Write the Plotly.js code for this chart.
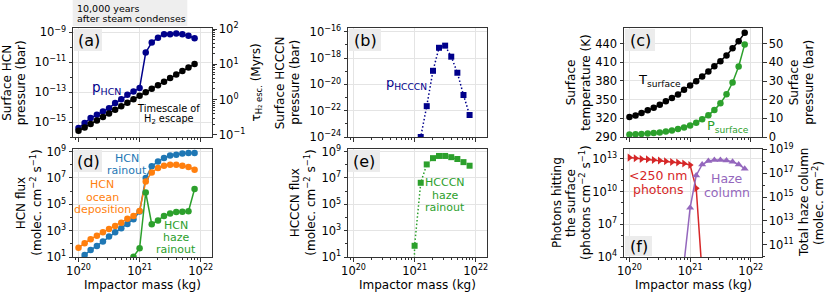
<!DOCTYPE html>
<html><head><meta charset="utf-8">
<script src="https://cdn.plot.ly/plotly-3.0.1.min.js"></script>
<style>html,body{margin:0;padding:0;background:#fff}#chart{width:831px;height:294px}</style>
</head><body><div id="chart"></div>
<script>
// ---------------- data ----------------
const impactorMass = [1.00e20, 1.26e20, 1.58e20, 2.00e20, 2.51e20, 3.16e20, 3.98e20, 5.01e20, 6.31e20, 7.94e20,
                      1.00e21, 1.26e21, 1.58e21, 2.00e21, 2.51e21, 3.16e21, 3.98e21, 5.01e21, 6.31e21, 7.94e21];
const pHCN = [4.0e-16, 8.5e-16, 1.86e-15, 3.1e-15, 5.1e-15, 8.5e-15, 1.86e-14, 3.4e-14, 6.6e-14, 1.1e-13,
              1.86e-13, 4.4e-11, 2.1e-10, 4.4e-10, 7.4e-10, 7.4e-10, 8.5e-10, 7.4e-10, 5.9e-10, 4.0e-10];
const tauH2esc = [0.13, 0.162, 0.204, 0.257, 0.323, 0.407, 0.512, 0.645, 0.812, 1.02,
                  1.29, 1.62, 2.04, 2.57, 3.23, 4.07, 5.12, 6.45, 8.12, 10.2];
const pHCCCN = [null, null, null, null, null, null, null, null, null, null,
                1e-30, 1.0e-24, 2.2e-22, 1.07e-19, 6.0e-18, 8.7e-18, 1.26e-18, 7.6e-20, 1.55e-21, 4.7e-23];
const tSurface = [322, 324.7, 328.4, 332.8, 337, 341.9, 347.2, 352.5, 358.4, 365.9,
                  372.8, 379.7, 387.2, 395.2, 403.7, 411.7, 420.8, 432.5, 443.7, 457.2];
const pSurface = [1.3, 1.46, 1.62, 1.84, 2.16, 2.38, 2.92, 3.46, 4.32, 5.08,
                  6.16, 7.57, 9.57, 11.7, 14.4, 18.05, 22.9, 29.2, 37.8, 49.6];
const hcnRainout = [5.6, 14, 34, 69, 148, 355, 760, 1510, 3240, 7400,
                    28000, 1.0e7, 7.6e7, 1.8e8, 3.3e8, 5.0e8, 5.9e8, 7.1e8, 7.9e8, 7.9e8];
const hcnOcean = [51, 110, 224, 417, 759, 1350, 2290, 4070, 7940, 13200,
                  31600, 5.5e6, 2.63e7, 5.75e7, 8.5e7, 1.02e8, 1.02e8, 8.5e7, 6.8e7, 4.3e7];
const hcnHaze = [null, null, null, null, null, null, null, null, 2.5, 10.5,
                 46, 7.9e5, 3100, 6000, 13200, 2.0e4, 2.6e4, 2.7e4, 2.95e4, 1.45e6];
const hcccnRainout = [null, null, null, null, null, null, null, null, null, 1e-30,
                      71, 4.3e6, 1.07e8, 3.2e8, 4.7e8, 4.7e8, 3.8e8, 2.75e8, 1.6e8, 8.5e7];
const photons250 = [1.29e13, 1.12e13, 9.5e12, 9.1e12, 7.8e12, 6.9e12, 6.0e12, 5.1e12, 4.6e12, 3.7e12,
                    2.7e12, 2.0e10, 250, null, null, null, null, null, null, null];
const hazeColumn = [null, null, null, null, null, null, null, null, null, 3e9,
                    1.26e14, 6.5e16, 5.4e17, 1.05e18, 1.26e18, 1.26e18, 1.17e18, 9.1e17, 5.5e17, 2.4e17];

// tick labels
const massTicks = [1e20, 1e21, 1e22];
const massTickText = ['10<sup>20</sup>', '10<sup>21</sup>', '10<sup>22</sup>'];
const hcnPTicks = [1e-15, 1e-13, 1e-11, 1e-9];
const hcnPTickText = ['10<sup>−15</sup>', '10<sup>−13</sup>', '10<sup>−11</sup>', '10<sup>−9</sup>'];
const tauTicks = [0.1, 1, 10, 100];
const tauTickText = ['10<sup>−1</sup>', '10<sup>0</sup>', '10<sup>1</sup>', '10<sup>2</sup>'];
const hcccnPTicks = [1e-24, 1e-22, 1e-20, 1e-18, 1e-16];
const hcccnPTickText = ['10<sup>−24</sup>', '10<sup>−22</sup>', '10<sup>−20</sup>', '10<sup>−18</sup>', '10<sup>−16</sup>'];
const tempTicks = [290, 320, 350, 380, 410, 440];
const presTicks = [0, 10, 20, 30, 40, 50];
const fluxTicks = [1e1, 1e3, 1e5, 1e7, 1e9];
const fluxTickText = ['10<sup>1</sup>', '10<sup>3</sup>', '10<sup>5</sup>', '10<sup>7</sup>', '10<sup>9</sup>'];
const photonTicks = [1e4, 1e7, 1e10, 1e13];
const photonTickText = ['10<sup>4</sup>', '10<sup>7</sup>', '10<sup>10</sup>', '10<sup>13</sup>'];
const hazeTicks = [1e11, 1e13, 1e15, 1e17, 1e19];
const hazeTickText = ['10<sup>11</sup>', '10<sup>13</sup>', '10<sup>15</sup>', '10<sup>17</sup>', '10<sup>19</sup>'];

// ---------------- layout helpers ----------------
const W = 831, H = 294;
const px = v => v / W;
const py = v => 1 - v / H;
const FONT = 'DejaVu Sans';
const AX = '#333';
const GRID = '#e4e4e4';
const TICKF = 11.5;
const colA = [73, 212], colB = [348, 487], colC = [624, 762];
const row1 = [28, 137], row2 = [149, 257];

function minorLog(lo, hi, subs) {
  const out = [];
  for (let e = lo; e <= hi; e++) subs.forEach(s => out.push(s * Math.pow(10, e)));
  return out;
}
const massMinor = minorLog(19, 21, [2,3,4,5,6,7,8,9]);

function xAx(col, anchor, labels) {
  return {
    type: 'log', domain: [px(col[0]), px(col[1])], anchor: anchor, range: [19.91, 22.185],
    tickmode: 'array', tickvals: massTicks, ticktext: massTickText, showticklabels: labels,
    ticks: 'outside', ticklen: 3.5, tickwidth: 1, tickcolor: AX,
    showline: true, mirror: true, linecolor: AX, linewidth: 1,
    showgrid: true, gridcolor: GRID, gridwidth: 1, zeroline: false,
    tickfont: {family: FONT, size: TICKF, color: '#000'},
    minor: {tickmode: 'array', tickvals: massMinor, ticks: 'outside', ticklen: 2, tickcolor: AX, showgrid: false}
  };
}
function yAx(row, anchor, type, range, tv, tt, minorVals, right, over) {
  const a = {
    type: type, domain: [py(row[1]), py(row[0])], anchor: anchor, range: range,
    tickmode: 'array', tickvals: tv, ticks: 'outside', ticklen: 3.5, tickwidth: 1, tickcolor: AX,
    showline: true, mirror: !right, linecolor: AX, linewidth: 1,
    showgrid: !right, gridcolor: GRID, gridwidth: 1, zeroline: false,
    tickfont: {family: FONT, size: TICKF, color: '#000'}
  };
  if (tt) a.ticktext = tt;
  if (minorVals) a.minor = {tickmode: 'array', tickvals: minorVals, ticks: 'outside', ticklen: 2, tickcolor: AX, showgrid: false};
  if (right) { a.side = 'right'; a.overlaying = over; }
  return a;
}

const layout = {
  width: W, height: H, margin: {l: 0, r: 0, t: 0, b: 0},
  paper_bgcolor: '#fff', plot_bgcolor: 'rgba(0,0,0,0)', showlegend: false,
  font: {family: FONT, color: '#000'},
  xaxis:  xAx(colA, 'y', false),
  xaxis2: xAx(colB, 'y3', false),
  xaxis3: xAx(colC, 'y4', false),
  xaxis4: xAx(colA, 'y6', true),
  xaxis5: xAx(colB, 'y7', true),
  xaxis6: xAx(colC, 'y8', true),
  yaxis:  yAx(row1, 'x', 'log', [-16, -8.71], hcnPTicks, hcnPTickText, [1e-16, 1e-14, 1e-12, 1e-10]),
  yaxis2: yAx(row1, 'x', 'log', [-1.06, 2.03], tauTicks, tauTickText, minorLog(-1, 1, [2,3,4,5,6,7,8,9]), true, 'y'),
  yaxis3: yAx(row1, 'x2', 'log', [-24, -15.72], hcccnPTicks, hcccnPTickText, [1e-23, 1e-21, 1e-19, 1e-17]),
  yaxis4: yAx(row1, 'x3', 'linear', [290, 465], tempTicks, null, null),
  yaxis5: yAx(row1, 'x3', 'linear', [0, 58.4], presTicks, null, null, true, 'y4'),
  yaxis6: yAx(row2, 'x4', 'log', [1, 9.2], fluxTicks, fluxTickText, [1e2, 1e4, 1e6, 1e8]),
  yaxis7: yAx(row2, 'x5', 'log', [1, 9.2], fluxTicks, fluxTickText, [1e2, 1e4, 1e6, 1e8]),
  yaxis8: yAx(row2, 'x6', 'log', [4, 13.9], photonTicks, photonTickText, [1e5, 1e6, 1e8, 1e9, 1e11, 1e12]),
  yaxis9: yAx(row2, 'x6', 'log', [9.98, 19.03], hazeTicks, hazeTickText, [1e10, 1e12, 1e14, 1e16, 1e18], true, 'y8'),
  shapes: [],
  annotations: []
};

function box(x0, y0, x1, y1, fill) {
  layout.shapes.push({type: 'rect', xref: 'paper', yref: 'paper', x0: px(x0), x1: px(x1), y0: py(y1), y1: py(y0),
                      fillcolor: fill, line: {width: 0}, layer: 'above'});
}
function txt(lines, cx, cy, o) {
  o = o || {};
  const size = o.size || 11, color = o.color || '#000', sp = o.spacing || size * 1.2, ang = o.angle || 0;
  const n = lines.length;
  lines.forEach((t, i) => {
    const off = (i - (n - 1) / 2) * sp;
    const a = {text: t, xref: 'paper', yref: 'paper', showarrow: false, font: {family: FONT, size: size, color: color},
               textangle: ang, borderpad: 0};
    if (ang === 0) { a.x = px(cx); a.y = py(cy + off); a.xanchor = o.anchor || 'center'; a.yanchor = 'middle'; }
    else { a.x = px(cx + off); a.y = py(cy); a.xanchor = 'center'; a.yanchor = 'middle'; }
    layout.annotations.push(a);
  });
}

// header box
box(72.7, 0, 187.3, 26, '#eeeeee');
txt(['10,000 years', 'after steam condenses'], 76, 13.5, {size: 9.5, spacing: 11, anchor: 'left'});

// panel letters
const LB = '#ececec';
box(74, 29, 102, 51, LB);   txt(['(a)'], 88.5, 40.5, {size: 16});
box(349, 29, 381, 51, LB);  txt(['(b)'], 365, 40.5, {size: 16});
box(625, 29, 655, 51, LB);  txt(['(c)'], 640, 40.5, {size: 16});
box(74, 150, 102, 172, LB); txt(['(d)'], 88.5, 161, {size: 16});
box(348, 150, 380, 172, LB); txt(['(e)'], 364, 161, {size: 16});
box(625, 236, 652, 256, LB); txt(['(f)'], 638.5, 246.5, {size: 16});

const DB = '#00008b', TB = '#1f77b4', TO = '#ff7f0e', TG = '#2ca02c', TR = '#d62728', TP = '#9467bd';

// in-panel labels
txt(['p<sub>HCN</sub>'], 106, 88, {size: 13.5, color: DB});
txt(['Timescale of', 'H<sub>2</sub> escape'], 168.7, 114, {size: 9.8, spacing: 11.5});
txt(['p<sub>HCCCN</sub>'], 406, 83, {size: 13, color: DB});
txt(['T<sub>surface</sub>'], 659, 81, {size: 13});
txt(['P<sub>surface</sub>'], 728, 127, {size: 13, color: TG});
txt(['HCN', 'rainout'], 127.5, 164, {size: 11, spacing: 12, color: TB});
txt(['HCN', 'ocean', 'deposition'], 102, 197, {size: 11, spacing: 12.5, color: TO});
txt(['HCN', 'haze', 'rainout'], 176, 237.5, {size: 11, spacing: 12.5, color: TG});
txt(['HCCCN', 'haze', 'rainout'], 444.5, 195, {size: 11, spacing: 12.3, color: TG});
txt(['<250 nm', 'photons'], 658, 182.5, {size: 12.5, spacing: 13.5, color: TR});
txt(['Haze', 'column'], 727, 185.5, {size: 12.5, spacing: 14, color: TP});

// axis titles
const c1 = (row1[0] + row1[1]) / 2, c2 = (row2[0] + row2[1]) / 2;
txt(['Surface HCN', 'pressure (bar)'], 14.5, c1, {size: 12, spacing: 14.4, angle: -90});
txt(['τ<sub>H₂ esc.</sub> (Myrs)'], 257, c1, {size: 12, angle: -90});
txt(['Surface HCCCN', 'pressure (bar)'], 288, c1, {size: 12, spacing: 14.4, angle: -90});
txt(['Surface', 'temperature (K)'], 579, c1, {size: 12, spacing: 14.4, angle: -90});
txt(['Surface', 'pressure (bar)'], 802, c1, {size: 12, spacing: 14.4, angle: -90});
txt(['HCN flux', '(molec. cm<sup>−2</sup> s<sup>−1</sup>)'], 28.5, c2, {size: 12, spacing: 14.4, angle: -90});
txt(['HCCCN flux', '(molec. cm<sup>−2</sup> s<sup>−1</sup>)'], 302.5, c2, {size: 12, spacing: 14.4, angle: -90});
txt(['Photons hitting', 'the surface', '(photons cm<sup>−2</sup> s<sup>−1</sup>)'], 571, c2, {size: 12, spacing: 14, angle: -90});
txt(['Total haze column', '(molec. cm<sup>−2</sup>)'], 811, c2, {size: 12, spacing: 14, angle: -90});
txt(['Impactor mass (kg)'], (colA[0] + colA[1]) / 2, 285, {size: 12});
txt(['Impactor mass (kg)'], (colB[0] + colB[1]) / 2, 285, {size: 12});
txt(['Impactor mass (kg)'], (colC[0] + colC[1]) / 2, 285, {size: 12});

// ---------------- traces ----------------
function tr(y, xa, ya, color, sym, dash, msize) {
  return {x: impactorMass, y: y, xaxis: xa, yaxis: ya, type: 'scatter', mode: 'lines+markers',
          line: {color: color, width: 1.5, dash: dash || 'solid'},
          marker: {color: color, size: msize || 6.5, symbol: sym || 'circle', line: {width: 0}},
          hoverinfo: 'skip', cliponaxis: true};
}
const DOT = '1.5px,2.2px';
const data = [
  tr(pHCN, 'x', 'y', DB),
  tr(tauH2esc, 'x', 'y2', '#000'),
  tr(pHCCCN, 'x2', 'y3', DB, 'square', DOT, 6),
  tr(tSurface, 'x3', 'y4', '#000'),
  tr(pSurface, 'x3', 'y5', TG),
  tr(hcnRainout, 'x4', 'y6', TB),
  tr(hcnOcean, 'x4', 'y6', TO),
  tr(hcnHaze, 'x4', 'y6', TG),
  tr(hcccnRainout, 'x5', 'y7', TG, 'square', DOT, 6),
  tr(photons250, 'x6', 'y8', TR, 'triangle-right', null, 7),
  tr(hazeColumn, 'x6', 'y9', TP, 'triangle-up', null, 7)
];

Plotly.newPlot('chart', data, layout, {staticPlot: true, displayModeBar: false});
</script>
</body></html>
